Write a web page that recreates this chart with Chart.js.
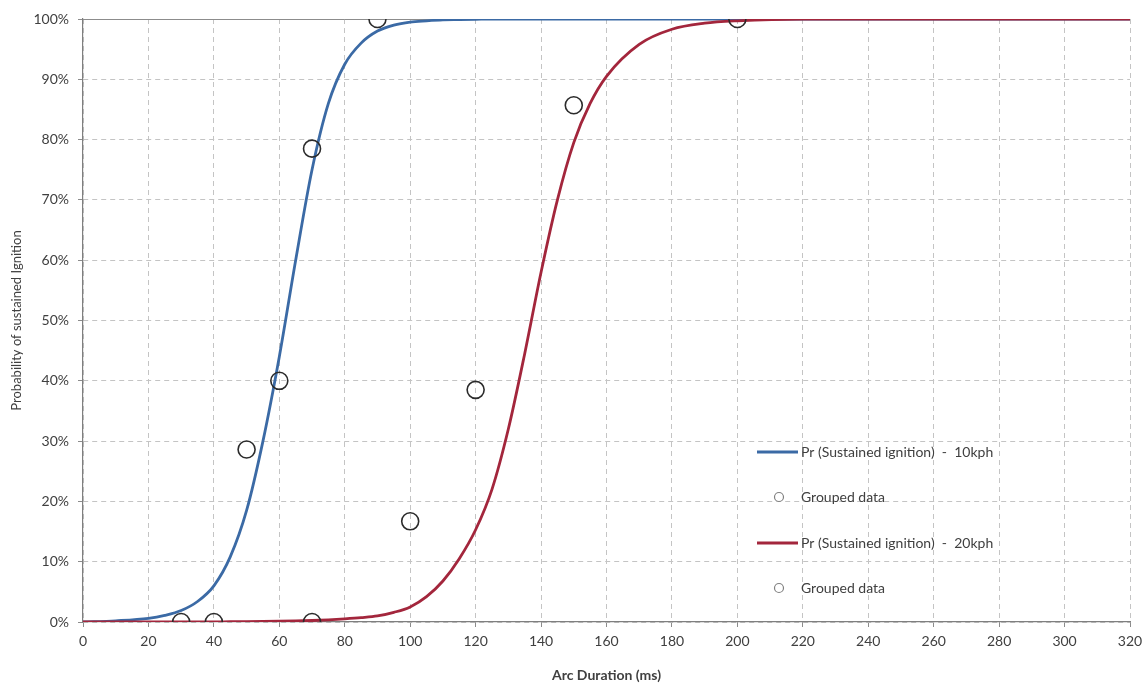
<!DOCTYPE html>
<html>
<head>
<meta charset="utf-8">
<script src="https://cdn.jsdelivr.net/npm/chart.js@4/dist/chart.umd.min.js"></script>
<style>
  html, body { margin: 0; padding: 0; background: #fff; }
  #wrap { width: 1142px; height: 688px; }
</style>
</head>
<body>
<div id="wrap"><canvas id="chart" width="1142" height="688"></canvas></div>
<script>
// fitted curves (ms, %)
const curveX = [0, 10, 20, 25, 30, 35, 40, 45, 50, 55, 60, 65, 70, 75, 80, 85, 90, 95, 100,
  105, 110, 115, 120, 125, 130, 135, 140, 145, 150, 155, 160, 170, 180, 190, 200, 220, 320];
const curve10kph = [0, 0.2, 0.6, 1.1, 1.9, 3.4, 6.0, 10.8, 18.5, 30, 44, 60, 75, 86, 92.5, 96, 98, 99, 99.5,
  99.7, 99.85, 99.9, 99.95, 100, 100, 100, 100, 100, 100, 100, 100, 100, 100, 100, 100, 100, 100];
const curve20kph = [0, 0, 0, 0, 0, 0, 0, 0.04, 0.06, 0.09, 0.13, 0.18, 0.25, 0.36, 0.52, 0.72, 1.0, 1.6, 2.5,
  4.2, 6.8, 10.5, 15.3, 22, 32, 44.5, 58, 70, 79.5, 86, 90.5, 95.8, 98.3, 99.3, 99.7, 100, 100];

// grouped data
const grouped10X = [30, 40, 50, 60, 70, 90];
const grouped10Y = [0, 0, 28.6, 40, 78.5, 100];
const grouped20X = [70, 100, 120, 150, 200];
const grouped20Y = [0, 16.7, 38.5, 85.7, 100];

const labels = [
  "Pr (Sustained ignition)  -  10kph",
  "Grouped data",
  "Pr (Sustained ignition)  -  20kph",
  "Grouped data",
];

const blue = "#3b6aa5";
const red = "#a3263c";
const ink = "#404040";
const fontFamily = "Lato, 'Open Sans', sans-serif";

const pts = (xs, ys) => xs.map((x, i) => ({ x: x, y: ys[i] }));

// legend drawn inside the plot area, on the right
const legendPlugin = {
  id: "insideLegend",
  afterDraw(chart) {
    const ctx = chart.ctx;
    const rows = [452, 497, 543, 588];
    ctx.save();
    ctx.font = "14px " + fontFamily;
    ctx.textBaseline = "middle";
    ctx.fillStyle = ink;
    chart.data.datasets.forEach((ds, i) => {
      const y = rows[i];
      if (ds.showLine) {
        ctx.strokeStyle = ds.borderColor;
        ctx.lineWidth = 3;
        ctx.beginPath();
        ctx.moveTo(757, y);
        ctx.lineTo(798, y);
        ctx.stroke();
      } else {
        ctx.strokeStyle = "#808080";
        ctx.lineWidth = 1.2;
        ctx.beginPath();
        ctx.arc(779, y, 4.5, 0, Math.PI * 2);
        ctx.stroke();
      }
      ctx.fillText(ds.label, 801, y);
    });
    ctx.restore();
  },
  beforeDatasetsDraw(chart) {
    // solid frame line along the top of the plot
    const { ctx, chartArea } = chart;
    ctx.save();
    ctx.strokeStyle = "#8c8c8c";
    ctx.lineWidth = 1;
    ctx.beginPath();
    ctx.moveTo(chartArea.left, Math.round(chartArea.top) + 0.5);
    ctx.lineTo(chartArea.right, Math.round(chartArea.top) + 0.5);
    ctx.stroke();
    ctx.restore();
  },
};

const ctx = document.getElementById("chart").getContext("2d");
new Chart(ctx, {
  type: "scatter",
  data: {
    datasets: [
      {
        label: labels[0],
        data: pts(curveX, curve10kph),
        showLine: true,
        borderColor: blue,
        borderWidth: 2.8,
        pointRadius: 0,
        cubicInterpolationMode: "monotone",
        order: 2,
      },
      {
        label: labels[1],
        data: pts(grouped10X, grouped10Y),
        showLine: false,
        borderColor: "#2b2b2b",
        backgroundColor: "rgba(0,0,0,0)",
        borderWidth: 1.6,
        pointRadius: 8.5,
        order: 0,
      },
      {
        label: labels[2],
        data: pts(curveX, curve20kph),
        showLine: true,
        borderColor: red,
        borderWidth: 2.8,
        pointRadius: 0,
        cubicInterpolationMode: "monotone",
        order: 1,
      },
      {
        label: labels[3],
        data: pts(grouped20X, grouped20Y),
        showLine: false,
        borderColor: "#2b2b2b",
        backgroundColor: "rgba(0,0,0,0)",
        borderWidth: 1.6,
        pointRadius: 8.5,
        order: 0,
      },
    ],
  },
  options: {
    responsive: false,
    animation: false,
    layout: { padding: { left: 0, right: 12, top: 19, bottom: 0 } },
    plugins: {
      legend: { display: false },
      tooltip: { enabled: false },
    },
    scales: {
      x: {
        type: "linear",
        min: 0,
        max: 320,
        afterFit: (scale) => {
          scale.height = 66;
          scale.paddingRight = 0;
          scale.paddingLeft = 0;
        },
        ticks: {
          stepSize: 20,
          color: ink,
          padding: 6,
          font: { family: fontFamily, size: 14 },
        },
        grid: {
          color: "#c4c4c4",
          tickColor: "#8c8c8c",
          tickLength: 5,
          tickBorderDash: [],
        },
        border: { color: "#7f7f7f", width: 1.2, dash: [5, 4] },
        title: {
          display: true,
          text: "Arc Duration (ms)",
          color: ink,
          padding: { top: 4, bottom: 4 },
          font: { family: fontFamily, size: 14, weight: "bold" },
        },
      },
      y: {
        type: "linear",
        min: 0,
        max: 100,
        afterFit: (scale) => { scale.width = 83; },
        ticks: {
          stepSize: 10,
          color: ink,
          padding: 9,
          font: { family: fontFamily, size: 14 },
          callback: (v) => v + "%",
        },
        grid: {
          color: "#c4c4c4",
          tickColor: "#8c8c8c",
          tickLength: 5,
          tickBorderDash: [],
        },
        border: { color: "#7f7f7f", width: 1.2, dash: [5, 4] },
        title: {
          display: true,
          text: "Probability of sustained Ignition",
          color: ink,
          padding: { top: 9, bottom: 4 },
          font: { family: fontFamily, size: 13 },
        },
      },
    },
  },
  plugins: [legendPlugin],
});
</script>
</body>
</html>
